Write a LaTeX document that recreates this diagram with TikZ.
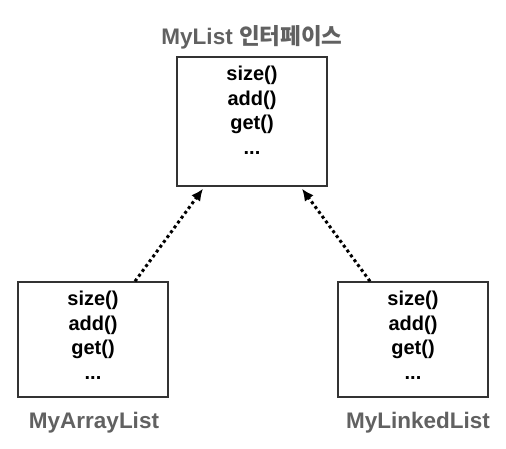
\documentclass[tikz,border=0pt]{standalone}
\usepackage{fontspec}
\setmainfont{Liberation Sans}
\newfontfamily\krfont{Noto Sans CJK KR}
\usetikzlibrary{arrows.meta}
\begin{document}
\begin{tikzpicture}[x=1pt,y=1pt,
  box/.style={draw=black!80, line width=1.4pt, minimum width=150pt, inner sep=0pt},
  boxtext/.style={align=center, inner sep=0pt, font=\bfseries\fontsize{20}{24.5}\selectfont},
  lbl/.style={text=black!62, inner sep=0pt, font=\bfseries\fontsize{22.5}{26}\selectfont},
  impl/.style={line width=3pt, dash pattern=on 3pt off 3pt, -{Latex[length=12pt,width=11pt]}}]
\useasboundingbox (0,0) rectangle (506,448);
% interface box
\node[box, minimum height=129pt] (top) at (252,326.5) {};
\node[boxtext, anchor=north] (toptxt) at ([yshift=-10pt]top.north) {size()\\add()\\get()\\...};
\node[lbl] (toplbl) at (252,411) {MyList {\krfont\bfseries 인터페이스}};
% left box
\node[box, minimum height=115pt] (lbox) at (93,108.5) {};
\node[boxtext, anchor=north] (ltxt) at ([yshift=-10pt]lbox.north) {size()\\add()\\get()\\...};
\node[lbl] (llbl) at (94,25) {MyArrayList};
% right box
\node[box, minimum height=115pt] (rbox) at (413,108.5) {};
\node[boxtext, anchor=north] (rtxt) at ([yshift=-10pt]rbox.north) {size()\\add()\\get()\\...};
\node[lbl] (rlbl) at (418,25) {MyLinkedList};
% arrows
\draw[impl] ([xshift=42pt]lbox.north) -- ([xshift=-49pt,yshift=-2pt]top.south);
\draw[impl] ([xshift=-43pt]rbox.north) -- ([xshift=50pt,yshift=-2pt]top.south);
\end{tikzpicture}
\end{document}
